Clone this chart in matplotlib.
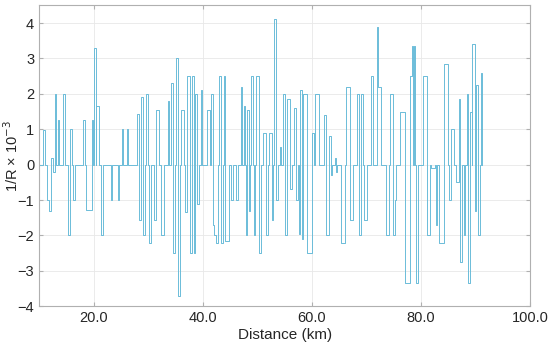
import matplotlib
matplotlib.use("Agg")
import matplotlib.pyplot as plt
from matplotlib.ticker import FixedLocator, FormatStrFormatter

# Curvature segments: (start km, end km, 1/R x 1e-3); zero elsewhere
seg_start = [10.81, 11.54, 11.91, 12.28, 12.64, 12.95, 13.50, 14.41, 15.33, 15.70,
             16.31, 18.14, 18.63, 19.73, 20.03, 20.46, 21.31, 23.20, 24.55, 25.22,
             26.07, 27.90, 28.27, 28.70, 29.13, 29.62, 30.23, 31.05, 31.50, 32.36,
             33.58, 34.20, 34.47, 35.10, 35.40, 36.05, 36.70, 37.20, 37.58, 38.04,
             38.35, 38.65, 38.96, 39.66, 40.82, 41.58, 41.83, 42.13, 42.44, 43.00,
             43.41, 43.80, 44.15, 45.10, 46.00, 47.00, 47.50, 47.87, 48.11, 48.48,
             48.78, 49.33, 49.70, 50.31, 51.05, 51.60, 52.08, 52.63, 53.06, 53.36,
             54.16, 54.77, 55.01, 55.50, 56.05, 56.72, 57.09, 57.60, 57.88, 58.13,
             58.43, 59.10, 60.02, 60.63, 62.28, 62.58, 63.19, 63.50, 64.29, 64.42,
             65.39, 66.25, 67.04, 68.26, 68.56, 69.05, 69.48, 70.82, 71.86, 72.05,
             73.60, 74.33, 74.79, 75.22, 76.05, 77.13, 78.00, 78.24, 78.66, 79.07,
             80.38, 81.08, 81.81, 82.67, 83.30, 84.22, 85.17, 85.54, 86.42, 86.90,
             87.15, 87.85, 88.35, 88.60, 88.96, 89.38, 89.81, 90.05, 90.48, 90.91]
seg_end = [11.18, 11.91, 12.28, 12.64, 12.89, 13.19, 13.74, 14.72, 15.63, 16.00,
           16.67, 18.44, 19.66, 19.97, 20.40, 21.01, 21.74, 23.45, 24.73, 25.46,
           26.26, 28.27, 28.60, 28.97, 29.45, 29.98, 30.47, 31.35, 32.06, 32.97,
           33.83, 34.47, 34.95, 35.40, 35.75, 36.50, 37.10, 37.58, 37.98, 38.35,
           38.65, 38.96, 39.30, 39.90, 41.34, 41.80, 42.13, 42.44, 42.80, 43.41,
           43.68, 44.10, 44.75, 45.50, 46.50, 47.25, 47.81, 48.11, 48.42, 48.66,
           49.21, 49.64, 50.25, 50.62, 51.60, 51.90, 52.60, 52.94, 53.36, 53.85,
           54.40, 55.01, 55.38, 55.99, 56.36, 57.09, 57.52, 57.88, 58.13, 58.35,
           59.10, 59.96, 60.45, 61.36, 62.52, 63.07, 63.50, 63.74, 64.42, 64.54,
           66.12, 66.98, 67.59, 68.56, 68.93, 69.36, 70.03, 71.25, 72.05, 72.60,
           74.18, 74.79, 75.22, 75.40, 77.05, 77.88, 78.24, 78.60, 78.96, 79.43,
           81.02, 81.66, 82.55, 82.91, 84.22, 84.99, 85.40, 85.93, 86.90, 87.15,
           87.49, 88.10, 88.60, 88.96, 89.26, 89.81, 90.05, 90.48, 90.85, 91.15]
seg_value = [0.97, -1.00, -1.30, 0.20, -0.20, 2.00, 1.25, 2.00, -2.00, 1.00,
             -1.00, 1.25, -1.27, 1.25, 3.30, 1.65, -2.00, -1.00, -1.00, 1.00,
             1.00, 1.42, -1.55, 1.90, -2.00, 2.00, -2.20, -1.55, 1.55, -2.00,
             1.80, 2.30, -2.50, 3.00, -3.70, 1.55, -1.35, 2.50, -2.50, 2.50,
             -2.50, 2.00, -1.10, 2.10, 1.55, 2.00, -1.70, -2.00, -2.20, 2.50,
             -2.20, 2.50, -2.15, -1.00, -1.00, 2.20, 1.65, -2.00, 1.55, -1.30,
             2.50, -2.00, 2.50, -2.50, 0.90, -2.00, 0.90, -1.55, 4.10, -1.00,
             0.50, 2.00, -2.00, 1.85, -0.70, 1.60, -1.00, -1.95, 2.10, -2.10,
             2.00, -2.50, 0.90, 2.00, 1.40, -2.00, 0.80, -0.30, 0.20, -0.20,
             -2.20, 2.20, -1.55, 2.00, -2.00, 2.00, -1.55, 2.50, 3.90, 2.20,
             -2.00, 2.00, -2.00, -1.00, 1.50, -3.35, 2.50, 3.35, 3.35, -3.35,
             2.50, -2.00, -0.10, -1.70, -2.20, 2.85, -1.00, 1.00, -0.50, 1.85,
             -2.75, -2.00, 2.00, -3.35, 1.50, 3.40, -1.30, 2.25, -2.00, 2.60]
x_start, x_stop = 10.0, 91.15

# build step profile (zero between segments)
xs, ys = [x_start], [0.0]
for a, b, v in zip(seg_start, seg_end, seg_value):
    if abs(a - xs[-1]) < 1e-9:
        ys[-1] = v
    else:
        xs.append(a); ys.append(v)
    xs.append(b); ys.append(0.0)
xs.append(x_stop); ys.append(0.0)

plt.rcParams['font.family'] = ['Liberation Sans', 'DejaVu Sans']
fig = plt.figure(figsize=(5.5, 3.49), dpi=100)
ax = fig.add_axes([0.0709, 0.1223, 0.8933, 0.8625])
ax.plot(xs, ys, drawstyle='steps-post', color='#6bbcd9', lw=0.7)

ax.set_xlim(10, 100)
ax.set_ylim(-4, 4.5)
ax.xaxis.set_major_locator(FixedLocator([20, 40, 60, 80, 100]))
ax.xaxis.set_major_formatter(FormatStrFormatter('%.1f'))
ax.yaxis.set_major_locator(FixedLocator([-4, -3, -2, -1, 0, 1, 2, 3, 4]))
ax.grid(True, color='#e8e8e8', lw=0.6)
ax.set_axisbelow(True)
for s in ax.spines.values():
    s.set_color('#b0b0b0')
    s.set_linewidth(0.8)
ax.tick_params(direction='in', length=3, color='#b0b0b0', labelsize=10.5,
               labelcolor='#262626', top=True, right=True)
ax.set_xlabel('Distance (km)', fontsize=11, color='#262626', labelpad=2)
ax.set_ylabel('1/R × 10$^{-3}$', fontsize=10.5, color='#262626')
ax.yaxis.set_label_coords(-0.036, 0.5)
fig.savefig('out.png', dpi=100)
